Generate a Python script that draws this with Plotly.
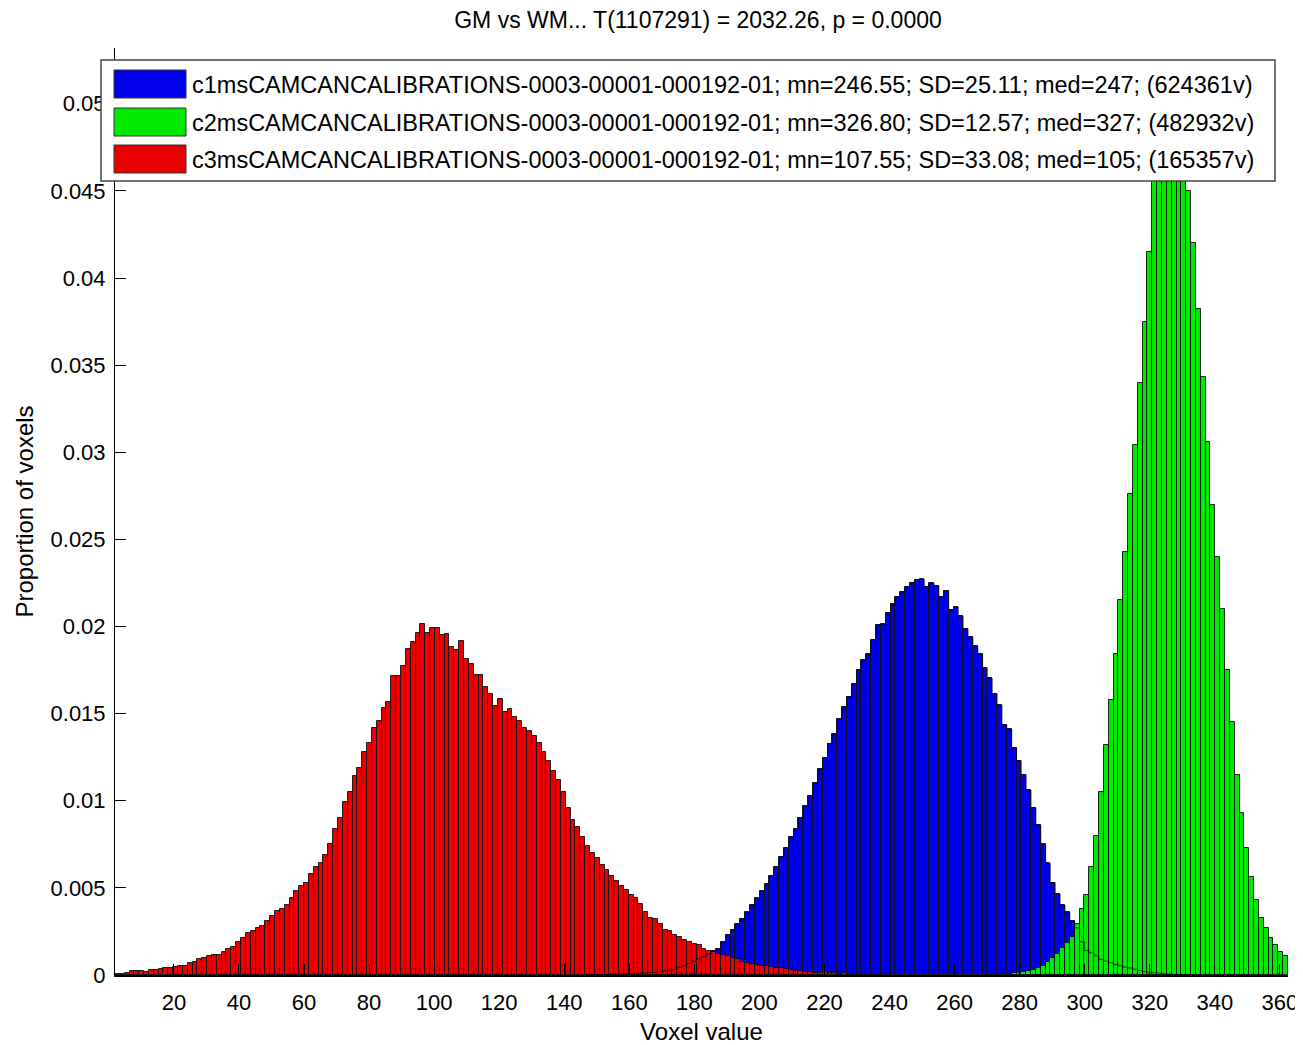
import numpy as np
import plotly.graph_objects as go

# ---------------- data ----------------
bin_first_edge = 1.9      # left edge of the first histogram bin (voxel value)
bin_width = 1.49          # histogram bin width (voxel value)

# values are proportions of voxels, written in units of 1e-3
red_first_bin = 0
red_permille = [
    0.04, 0.06, 0.10, 0.22, 0.23, 0.22, 0.15, 0.30, 0.30, 0.32,
    0.40, 0.40, 0.47, 0.49, 0.52, 0.67, 0.77, 0.90, 1.00, 1.10,
    1.15, 1.17, 1.30, 1.50, 1.60, 1.90, 2.10, 2.40, 2.50, 2.70,
    2.80, 3.10, 3.40, 3.70, 3.80, 4.00, 4.40, 4.80, 5.10, 5.30,
    5.80, 6.20, 6.40, 6.90, 7.50, 8.40, 9.00, 9.90, 10.50, 11.40,
    11.90, 12.80, 13.30, 14.20, 14.60, 15.33, 15.69, 17.16, 17.16, 17.76,
    18.70, 19.13, 19.61, 20.15, 19.61, 19.92, 19.92, 19.52, 19.57, 18.85,
    18.66, 19.19, 18.12, 17.85, 17.22, 17.20, 16.51, 16.11, 15.44, 15.83,
    15.11, 15.25, 14.80, 14.60, 14.20, 14.00, 13.70, 13.30, 12.80, 12.30,
    11.70, 11.20, 10.50, 9.60, 8.90, 8.50, 7.90, 7.40, 7.00, 6.70,
    6.30, 6.00, 5.70, 5.40, 5.10, 4.90, 4.60, 4.40, 4.10, 3.60,
    3.30, 3.20, 2.90, 2.60, 2.50, 2.30, 2.20, 2.00, 1.90, 1.80,
    1.70, 1.50, 1.40, 1.30, 1.20, 1.15, 1.10, 0.95, 0.90, 0.75,
    0.70, 0.65, 0.57, 0.50, 0.50, 0.46, 0.40, 0.40, 0.35, 0.30,
    0.25, 0.23, 0.20, 0.17, 0.13, 0.12, 0.17, 0.10, 0.10, 0.08,
    0.10, 0.07, 0.06, 0.08, 0.05, 0.05, 0.04, 0.04, 0.03,
]

blue_first_bin = 97
blue_permille = [
    0.01, 0.01, 0.02,
    0.02, 0.03, 0.04, 0.05, 0.06, 0.08, 0.09, 0.10, 0.11, 0.12,
    0.13, 0.16, 0.20, 0.24, 0.27, 0.33, 0.45, 0.55, 0.66, 0.80,
    0.94, 1.05, 1.20, 1.36, 1.50, 1.90, 2.30, 2.60, 2.90, 3.20,
    3.60, 4.00, 4.40, 4.80, 5.20, 5.70, 6.20, 6.80, 7.30, 7.90,
    8.40, 9.00, 9.70, 10.30, 11.00, 11.80, 12.48, 13.28, 13.81, 14.68,
    15.40, 15.97, 16.69, 17.49, 18.06, 18.41, 19.23, 20.09, 20.12, 20.80,
    21.28, 21.70, 22.00, 22.27, 22.52, 22.67, 22.71, 22.29, 22.48, 22.33,
    21.70, 22.04, 20.93, 21.12, 20.60, 19.88, 19.40, 18.88, 18.41, 17.64,
    17.03, 16.15, 15.50, 14.35, 14.10, 13.01, 12.30, 11.50, 10.60, 9.60,
    8.60, 7.50, 6.40, 5.30, 4.65, 4.00, 3.60, 3.10, 2.70, 1.90,
    1.40, 1.27, 1.10, 0.90, 0.80, 0.70, 0.60, 0.54, 0.45, 0.40,
    0.33, 0.25, 0.20, 0.15, 0.12, 0.10, 0.07, 0.05, 0.04, 0.03,
    0.02, 0.02, 0.01,
]

green_first_bin = 180
green_permille = [
    0.02, 0.03, 0.04, 0.06, 0.08, 0.10, 0.12, 0.20, 0.25, 0.30,
    0.38, 0.54, 0.73, 0.96, 1.20, 1.55, 1.83, 2.20, 2.90, 3.80,
    4.60, 6.20, 8.00, 10.50, 13.20, 15.80, 18.40, 21.50, 24.30, 27.60,
    30.40, 34.00, 37.50, 41.50, 46.00, 48.50, 50.50, 51.80, 51.20, 49.50,
    47.00, 45.00, 42.00, 38.20, 34.30, 30.60, 27.00, 24.00, 21.00, 17.50,
    14.50, 11.50, 9.30, 7.30, 5.60, 4.30, 3.30, 2.70, 2.10, 1.70,
    1.30, 1.10,
]

series_names = [
    "c1msCAMCANCALIBRATIONS-0003-00001-000192-01; mn=246.55; SD=25.11; med=247; (624361v)",
    "c2msCAMCANCALIBRATIONS-0003-00001-000192-01; mn=326.80; SD=12.57; med=327; (482932v)",
    "c3msCAMCANCALIBRATIONS-0003-00001-000192-01; mn=107.55; SD=33.08; med=105; (165357v)",
]
series_colors = ["#0000ea", "#00ea00", "#ea0000"]

x_ticks = [20, 40, 60, 80, 100, 120, 140, 160, 180, 200, 220, 240, 260, 280, 300, 320, 340, 360]
y_ticks = [0, 0.005, 0.01, 0.015, 0.02, 0.025, 0.03, 0.035, 0.04, 0.045, 0.05]
y_tick_text = ["0", "0.005", "0.01", "0.015", "0.02", "0.025", "0.03", "0.035", "0.04", "0.045", "0.05"]
x_range = [1.9, 362.48]
y_range = [0, 0.0532]

title_text = "GM vs WM... T(1107291) = 2032.26, p = 0.0000"
x_title = "Voxel value"
y_title = "Proportion of voxels"

FONT = "Liberation Sans, Arial, Helvetica, sans-serif"


def centers(first, vals):
    return bin_first_edge + bin_width * (first + np.arange(len(vals)) + 0.5)


def values(vals):
    return np.array(vals) / 1000.0


fig = go.Figure()

# draw order: blue (bottom), green, red (top)
for first, vals, col in [
    (blue_first_bin, blue_permille, series_colors[0]),
    (green_first_bin, green_permille, series_colors[1]),
    (red_first_bin, red_permille, series_colors[2]),
]:
    fig.add_trace(go.Bar(
        x=centers(first, vals), y=values(vals), width=bin_width,
        marker=dict(color=col, line=dict(color="rgba(15,15,15,0.9)", width=1)),
        showlegend=False, hoverinfo="skip",
    ))

# outline of the blue histogram seen through the overlapping bars
bv = values(blue_permille)
edges = bin_first_edge + bin_width * (blue_first_bin + np.arange(len(bv) + 1))
ox = np.concatenate([[edges[0]], edges[:-1], [edges[-1]]])
oy = np.concatenate([[0], bv, [0]])
fig.add_trace(go.Scatter(x=ox, y=oy, mode="lines", line=dict(color="rgba(0,0,0,0.6)", width=1, shape="hv"),
                         showlegend=False, hoverinfo="skip"))

# ---------------- layout ----------------
OFF = 8                      # default body margin of the html page
W, H = 1303 - 2 * OFF, 1045 - OFF
# plot area in screen pixels
SL, SR, ST, SB = 115, 1288, 48, 975
L, T = SL - OFF, ST - OFF
R, B = W - (SR - OFF), H - (SB - OFF)
pw, ph = W - L - R, H - T - B


def px_x(p):
    return (p - SL) / pw


def px_y(p):
    return (SB - p) / ph


shapes = []
annotations = []
# legend box (drawn on top of the bars)
shapes.append(dict(type="rect", xref="paper", yref="paper", layer="above",
                   x0=px_x(101), x1=px_x(1275), y0=px_y(181), y1=px_y(60),
                   fillcolor="white", line=dict(color="#444", width=1.5)))
row_centers = [84, 122, 159]
for name, col, yc in zip(series_names, series_colors, row_centers):
    shapes.append(dict(type="rect", xref="paper", yref="paper", layer="above",
                       x0=px_x(114), x1=px_x(186), y0=px_y(yc + 14), y1=px_y(yc - 14),
                       fillcolor=col, line=dict(color="#333", width=1)))
    annotations.append(dict(xref="paper", yref="paper", x=px_x(190), y=px_y(yc + 1),
                            xanchor="left", yanchor="middle", showarrow=False, text=name,
                            font=dict(family=FONT, size=23.5, color="black")))

fig.update_layout(
    width=W, height=H,
    margin=dict(l=L, r=R, t=T, b=B),
    paper_bgcolor="white", plot_bgcolor="white",
    barmode="overlay", bargap=0,
    font=dict(family=FONT, size=22, color="black"),
    title=dict(text=title_text, x=(698 - OFF) / W, xref="container", xanchor="center",
               y=1 - (20 - OFF) / H, yanchor="middle", yref="container",
               font=dict(family=FONT, size=23, color="black")),
    xaxis=dict(range=x_range, tickvals=x_ticks, ticks="inside", ticklen=11, tickcolor="black",
               showline=True, linecolor="black", linewidth=1.5, mirror=False, showgrid=False,
               zeroline=False, tickfont=dict(family=FONT, size=22), ticklabelstandoff=7,
               ticklabeloverflow="allow", automargin=False,
               title=dict(text=x_title, font=dict(family=FONT, size=24), standoff=12)),
    yaxis=dict(range=y_range, tickvals=y_ticks, ticktext=y_tick_text, ticks="inside", ticklen=11,
               tickcolor="black", showline=True, linecolor="black", linewidth=1, mirror=False,
               showgrid=False, zeroline=False, tickfont=dict(family=FONT, size=22), ticklabelstandoff=4,
               automargin=False,
               title=dict(text=y_title, font=dict(family=FONT, size=24), standoff=10)),
    shapes=shapes,
    annotations=annotations,
)

fig.write_html("out.html", config={"displayModeBar": False})
